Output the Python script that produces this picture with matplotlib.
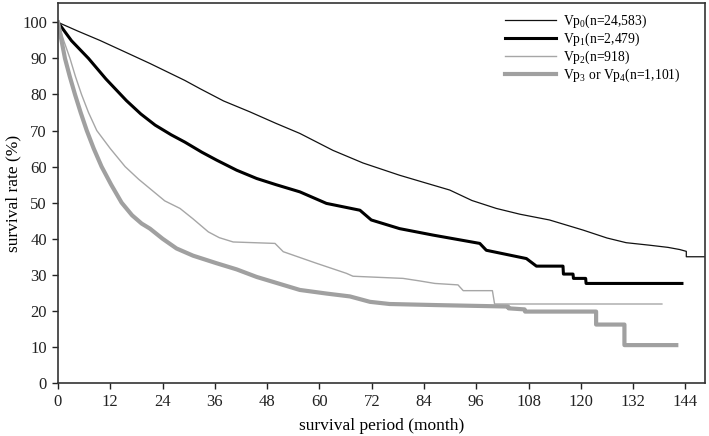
import matplotlib
matplotlib.use("Agg")
import matplotlib.pyplot as plt

plt.rcParams['font.family'] = ['Liberation Serif', 'DejaVu Serif']
plt.rcParams['mathtext.fontset'] = 'custom'
plt.rcParams['mathtext.rm'] = 'Liberation Serif'
plt.rcParams['mathtext.it'] = 'Liberation Serif:italic'

# Vp0
t_vp0 = [0, 4.5, 9.6, 15, 21.1, 29.1, 32.6, 38, 44, 50, 55.5, 63.1, 70, 78.4, 84, 89.9,
         95, 100.6, 106, 112.8, 120.5, 126, 130.4, 135.8, 140, 142.7, 144.2, 144.2, 148.5]
s_vp0 = [100, 97.6, 95.0, 92.0, 88.6, 83.9, 81.6, 78.2, 75.2, 72.0, 69.2, 64.5, 61.0,
         57.6, 55.6, 53.5, 50.6, 48.4, 46.8, 45.2, 42.4, 40.2, 38.9, 38.2, 37.6, 37.0,
         36.5, 35.0, 35.0]
# Vp1
t_vp1 = [0, 3.1, 7, 11, 15.7, 19, 22.3, 26, 29.1, 33, 36.4, 41, 45.6, 50, 55.5, 61.6,
         69.3, 71.9, 78.4, 86.1, 96.8, 98.3, 107.5, 109.8, 115.9, 116, 118.2, 118.3,
         121.1, 121.2, 143.2]
s_vp1 = [100, 94.9, 90, 84.3, 78.3, 74.6, 71.5, 68.8, 66.8, 64.0, 61.8, 59.0, 56.7,
         55.0, 53.0, 49.8, 47.9, 45.2, 42.8, 41.0, 38.7, 36.8, 34.5, 32.4, 32.4, 30.2,
         30.2, 29.0, 29.0, 27.6, 27.6]
# Vp2
t_vp2 = [0, 1.3, 2.75, 4, 5.4, 7, 8.9, 12, 15.4, 18.5, 21.1, 24.5, 28, 31, 34.5, 37,
         40.2, 49.8, 51.7, 59.3, 66.2, 67.7, 79.2, 83, 86.5, 91.8, 93, 99.7, 100.2, 138.6]
s_vp2 = [100, 95, 90, 85, 80, 75, 70, 65, 60, 56.5, 53.9, 50.5, 48.4, 45.5, 41.9, 40.3,
         39.1, 38.7, 36.4, 33.2, 30.4, 29.6, 29.0, 28.3, 27.6, 27.2, 25.6, 25.6, 21.9, 21.9]
# Vp3 or Vp4
t_vp34 = [0, 0.8, 1.6, 2.7, 3.9, 5.2, 6.6, 8.2, 10.0, 12.2, 14.6, 17, 19.2, 21.1, 24,
          27.2, 31, 36.4, 41, 45.6, 50, 55.5, 61.6, 67, 71.6, 76.1, 86.8, 103.3, 103.4,
          107.1, 107.2, 123.5, 123.5, 130, 130, 141.9]
s_vp34 = [100, 95, 90, 85, 80, 75, 70, 65, 60, 55, 50, 46.5, 44.2, 42.8, 40.0, 37.3,
          35.3, 33.2, 31.5, 29.4, 27.8, 25.8, 24.8, 24.0, 22.5, 21.9, 21.6, 21.2, 20.7,
          20.4, 19.8, 19.8, 16.2, 16.2, 10.5, 10.5]

labels = [r'Vp$_\mathrm{0}$(n=24,583)', r'Vp$_\mathrm{1}$(n=2,479)',
          r'Vp$_\mathrm{2}$(n=918)', r'Vp$_\mathrm{3}$ or Vp$_\mathrm{4}$(n=1,101)']
xticks = list(range(0, 145, 12))
yticks = list(range(0, 101, 10))

fig = plt.figure(figsize=(7.09, 4.36), dpi=100)
ax = fig.add_axes([0.0818, 0.1216, 0.912, 0.871])

ax.plot(t_vp0, s_vp0, color='#111111', lw=0.9, label=labels[0])
ax.plot(t_vp1, s_vp1, color='#000000', lw=2.2, label=labels[1])
ax.plot(t_vp2, s_vp2, color='#a6a6a6', lw=1.0, label=labels[2])
ax.plot(t_vp34, s_vp34, color='#a0a0a0', lw=3.0, label=labels[3])

ax.set_xlim(0, 148.4)
ax.set_ylim(0, 105.3)
ax.set_xticks(xticks)
ax.set_yticks(yticks)
ax.tick_params(direction='out', length=4.5, width=1.0, labelsize=12, colors='#222222')
for sp in ax.spines.values():
    sp.set_color('#333333')
    sp.set_linewidth(1.2)

ax.set_xlabel('survival period (month)', fontsize=12.5, labelpad=6)
ax.set_ylabel('survival rate (%)', fontsize=12.5)
ax.yaxis.set_label_coords(-0.057, 0.5)

ax.legend(loc='upper right', frameon=False, fontsize=9.8, handlelength=3.8,
          handletextpad=0.45, labelspacing=0.05, borderpad=0, borderaxespad=0,
          bbox_to_anchor=(0.962, 0.975))

fig.savefig('out.png', dpi=100)
